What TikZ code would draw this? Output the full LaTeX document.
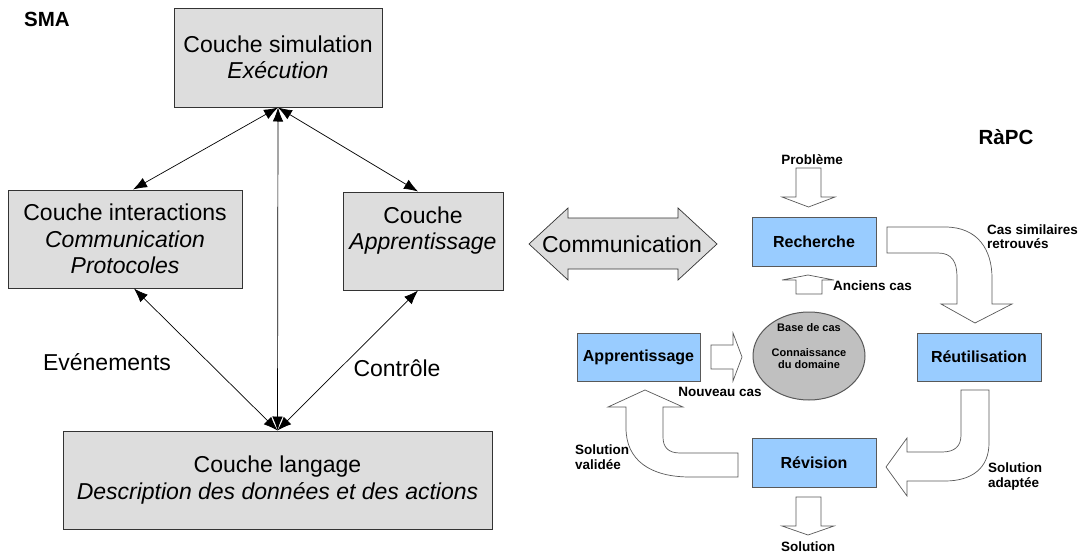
\documentclass[tikz,border=0pt]{standalone}
\usepackage{fontspec}
\setmainfont{Liberation Sans}
\usetikzlibrary{arrows.meta,shapes.geometric}
\definecolor{boxgray}{HTML}{DDDDDD}
\definecolor{boxblue}{HTML}{99CCFF}
\definecolor{ellgray}{HTML}{C0C0C0}
\begin{document}
\begin{tikzpicture}[x=1pt,y=-1pt,
 layer/.style={draw=black!80, fill=boxgray, line width=1pt, align=center, inner sep=0pt, font=\fontsize{23}{26.3}\selectfont},
 rbox/.style={draw=black!65, fill=boxblue, line width=1pt, inner sep=0pt, minimum width=124pt, minimum height=49pt, font=\fontsize{16}{19}\selectfont\bfseries},
 lab/.style={font=\fontsize{13.5}{15}\selectfont\bfseries, inner sep=0pt, align=left},
 link/.style={arrows={Latex[length=14pt,width=10.5pt]-Latex[length=14pt,width=10.5pt]}, line width=0.7pt},
 blockarrow/.style={draw=black!65, fill=white, line width=0.7pt, line join=miter},
 big/.style={font=\fontsize{23}{26}\selectfont, inner sep=0pt},
 title/.style={font=\fontsize{20.5}{24}\selectfont\bfseries, inner sep=0pt}
]
\path[use as bounding box] (0,0) rectangle (1081,554);

% ---- SMA side ----
\node[title] (sma) at (47,19) {SMA};
\node[layer, minimum width=208pt, minimum height=99pt] (sim) at (278,57.5) {Couche simulation\\\textit{Exécution}};
\node[layer, minimum width=234pt, minimum height=98pt] (inter) at (125,239) {Couche interactions\\\textit{Communication}\\\textit{Protocoles}};
\node[layer, minimum width=160pt, minimum height=98pt] (capp) at (423,241) {Couche\\\textit{Apprentissage}\\\mbox{}};
\node[layer, minimum width=429pt, minimum height=98pt] (lang) at (277.5,480) {Couche langage\\\textit{Description des données et des actions}};

\draw[link] (sim.south) -- ([xshift=8pt]inter.north);
\draw[link] (sim.south) -- ([xshift=-5pt]capp.north);
\draw[link] (sim.south) -- (lang.north);
\draw[link] ([xshift=9pt]inter.south) -- (lang.north);
\draw[link] ([xshift=-5pt]capp.south) -- (lang.north);

\node[big] (evt) at (107,362) {Evénements};
\node[big] (ctrl) at (397,368) {Contrôle};

% ---- Communication double arrow ----
\draw[blockarrow, draw=black!80, fill=boxgray] (529,244) -- (568,208) -- (568,218) -- (678,218) -- (678,208) -- (717,244) -- (678,280) -- (678,269) -- (568,269) -- (568,280) -- cycle;
\node[big] (comm) at (622,244) {Communication};

% ---- RaPC side ----
\node[title] (rapc) at (1006,137) {RàPC};
\node[rbox] (rech) at (814,241.5) {Recherche};
\node[rbox, minimum height=48pt] (reut) at (979,357) {Réutilisation};
\node[rbox] (rev) at (814,462.5) {Révision};
\node[rbox, minimum width=123pt, minimum height=48pt] (apr) at (638.5,357) {Apprentissage};
\node[ellipse, draw=black!65, fill=ellgray, minimum width=112pt, minimum height=88pt, inner sep=0pt, line width=1pt] (base) at (809,356) {};
\node[font=\fontsize{11}{12.5}\selectfont\bfseries, align=center, inner sep=0pt] (basetxt) at (809,346) {Base de cas\\[12.5pt]Connaissance\\du domaine};

% labels
\node[lab] (prob) at (812,160) {Problème};
\node[lab, anchor=west] (anc) at (833,286) {Anciens cas};
\node[lab, anchor=west, font=\fontsize{13.5}{13.5}\selectfont\bfseries] (cassim) at (987,236.5) {Cas similaires\\retrouvés};
\node[lab] (nouv) at (720,392) {Nouveau cas};
\node[lab, anchor=west] (solv) at (575,457.5) {Solution\\validée};
\node[lab, anchor=west] (sola) at (988,476.5) {Solution\\adaptée};
\node[lab] (sol) at (808,547) {Solution};

% straight block arrows
\draw[blockarrow] (796,168) -- (821,168) -- (821,197) -- (835,197) -- (808.5,207) -- (782,197) -- (796,197) -- cycle;
\draw[blockarrow] (796,294) -- (822,294) -- (822,280) -- (834,280) -- (808,275) -- (782,280) -- (796,280) -- cycle;
\draw[blockarrow] (796,497) -- (821,497) -- (821,526) -- (834,526) -- (808,535) -- (782,526) -- (796,526) -- cycle;
\draw[blockarrow] (711,345) -- (733,345) -- (733,333) -- (742,357) -- (733,381) -- (733,369) -- (711,369) -- cycle;

% curved block arrows
\draw[blockarrow] (887,227) -- (945,227) .. controls (978,227) and (992,250) .. (992,278) -- (992,304) -- (1012,304) -- (975,323) -- (941,304) -- (957,304) -- (957,277) .. controls (957,262) and (952,253) .. (938,253) -- (887,253) -- cycle;
\draw[blockarrow] (961,390) -- (989,390) -- (989,443) .. controls (989,468) and (972,481) .. (945,481) -- (907,481) -- (907,496) -- (886,467) -- (907,438) -- (907,452) -- (942,452) .. controls (955,452) and (961,446) .. (961,435) -- cycle;
\draw[blockarrow] (738,453) -- (738,477) -- (690,477) .. controls (650,477) and (626,460) .. (626,428) -- (626,407) -- (608,407) -- (645,390) -- (683,407) -- (663,407) -- (663,437) .. controls (663,447) and (668,453) .. (680,453) -- cycle;
\end{tikzpicture}
\end{document}
